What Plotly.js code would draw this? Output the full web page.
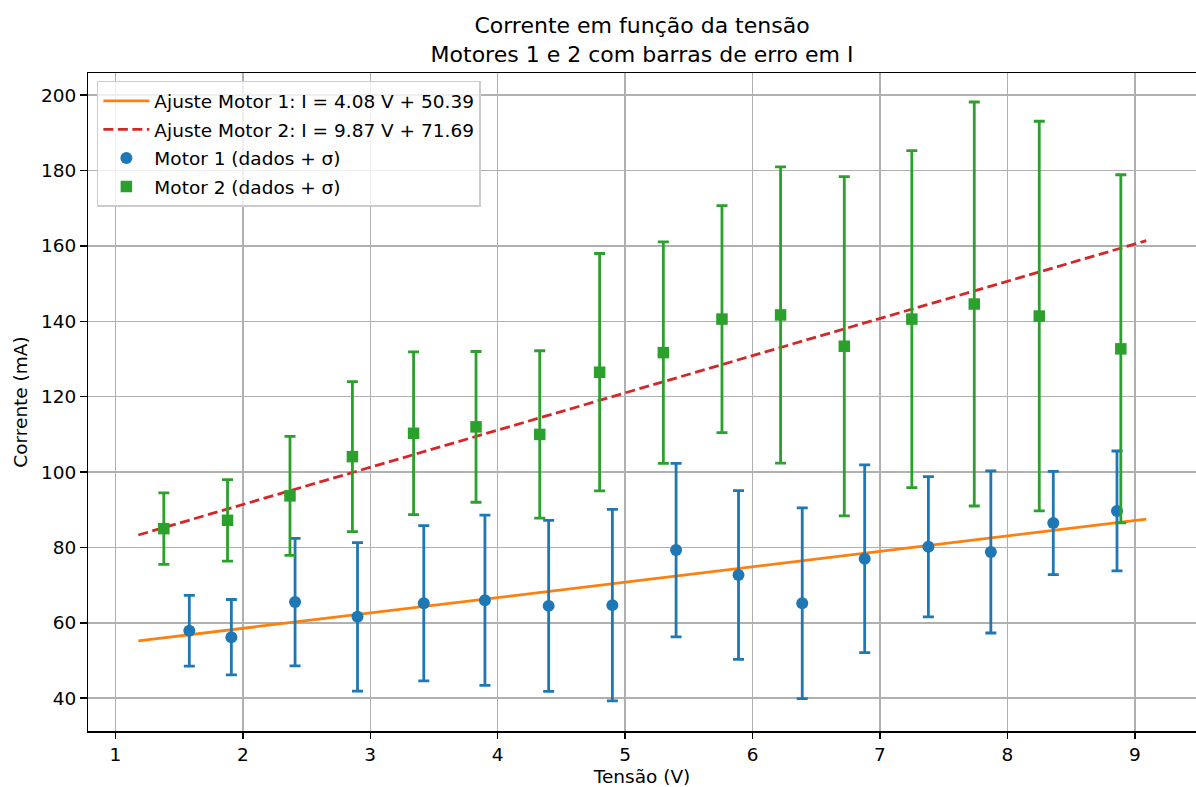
<!DOCTYPE html>
<html>
<head>
<meta charset="utf-8">
<script src="https://cdn.plot.ly/plotly-3.0.1.min.js"></script>
<style>html,body{margin:0;padding:0;background:#fff;}#chart{width:1196px;height:787px;}</style>
</head>
<body>
<div id="chart"></div>
<script>
// Motor 1 data
const m1V = [1.58, 1.91, 2.41, 2.90, 3.42, 3.90, 4.40, 4.90, 5.40, 5.89, 6.39, 6.88, 7.38, 7.87, 8.36, 8.86];
const m1I = [57.9, 56.2, 65.5, 61.6, 65.2, 66.0, 64.5, 64.7, 79.3, 72.7, 65.2, 77.0, 80.2, 78.8, 86.5, 89.7];
const m1Err = [9.4, 10.0, 16.9, 19.7, 20.6, 22.6, 22.7, 25.4, 23.0, 22.4, 25.3, 24.9, 18.6, 21.5, 13.7, 15.9];
// Motor 2 data
const m2V = [1.38, 1.88, 2.37, 2.86, 3.34, 3.83, 4.33, 4.80, 5.30, 5.76, 6.22, 6.72, 7.25, 7.74, 8.25, 8.89];
const m2I = [85.0, 87.2, 93.7, 104.1, 110.3, 112.0, 110.0, 126.5, 131.7, 140.6, 141.7, 133.4, 140.6, 144.6, 141.4, 132.7];
const m2Err = [9.5, 10.8, 15.8, 19.9, 21.6, 20.0, 22.2, 31.5, 29.4, 30.1, 39.3, 45.0, 44.7, 53.6, 51.7, 46.2];
// Fit lines (endpoints)
const fitV = [1.18, 9.09];
const fit1I = [55.2, 87.5];
const fit2I = [83.3, 161.4];
const fit1Label = "Ajuste Motor 1: I = 4.08 V + 50.39";
const fit2Label = "Ajuste Motor 2: I = 9.87 V + 71.69";
const m1Label = "Motor 1 (dados + σ)";
const m2Label = "Motor 2 (dados + σ)";
const yTicks = [40, 60, 80, 100, 120, 140, 160, 180, 200];
const xTicks = [1, 2, 3, 4, 5, 6, 7, 8, 9];

const FONT = "DejaVu Sans, sans-serif";
const FS = 18.5;

const traces = [
  {x: fitV, y: fit1I, mode: "lines", name: fit1Label, legendrank: 1, legendgroup: "a",
   line: {color: "#ff7f0e", width: 2.8}},
  {x: fitV, y: fit2I, mode: "lines", name: fit2Label, legendrank: 2, legendgroup: "b",
   line: {color: "#d62728", width: 2.8, dash: "10px,4.5px"}},
  {x: m1V, y: m1I, mode: "markers", name: m1Label, legendrank: 3, legendgroup: "c",
   marker: {color: "#1f77b4", size: 12, symbol: "circle"},
   error_y: {type: "data", array: m1Err, visible: true, color: "#1f77b4", thickness: 2.8, width: 5.5}},
  {x: m2V, y: m2I, mode: "markers", name: m2Label, legendrank: 4, legendgroup: "d",
   marker: {color: "#2ca02c", size: 11.5, symbol: "square"},
   error_y: {type: "data", array: m2Err, visible: true, color: "#2ca02c", thickness: 2.8, width: 5.5}}
];

const layout = {
  width: 1196, height: 787,
  paper_bgcolor: "#fff", plot_bgcolor: "#fff",
  margin: {l: 88, r: 0, t: 73, b: 56},
  font: {family: FONT, size: FS, color: "#000"},
  title: {text: "Corrente em função da tensão<br>Motores 1 e 2 com barras de erro em I",
          font: {family: FONT, size: 22, color: "#000"},
          x: 0.5, xanchor: "center", xref: "paper", y: 0.958, yref: "container", yanchor: "middle"},
  xaxis: {range: [0.785, 9.48], tickvals: xTicks, ticktext: xTicks.map(String),
          showgrid: true, gridcolor: "#b0b0b0", gridwidth: 1.5,
          showline: true, linecolor: "#000", linewidth: 1.5, mirror: true,
          ticks: "outside", ticklen: 6.5, tickwidth: 1.5, tickcolor: "#000",
          zeroline: false, tickfont: {family: FONT, size: FS, color: "#000"},
          title: {text: "Tensão (V)", font: {family: FONT, size: FS, color: "#000"}, standoff: 6}},
  yaxis: {range: [31.3, 205.9], tickvals: yTicks, ticktext: yTicks.map(String),
          showgrid: true, gridcolor: "#b0b0b0", gridwidth: 1.5,
          showline: true, linecolor: "#000", linewidth: 1.5, mirror: true,
          ticks: "outside", ticklen: 6.5, tickwidth: 1.5, tickcolor: "#000",
          zeroline: false, tickfont: {family: FONT, size: FS, color: "#000"},
          title: {text: "Corrente (mA)", font: {family: FONT, size: FS, color: "#000"}, standoff: 8}},
  legend: {x: 0.008, y: 0.988, xanchor: "left", yanchor: "top",
           bgcolor: "rgba(255,255,255,0.8)", bordercolor: "#cccccc", borderwidth: 1.5,
           font: {family: FONT, size: FS, color: "#000"},
           traceorder: "grouped", tracegroupgap: 1.5, itemwidth: 46},
  showlegend: true
};

Plotly.newPlot("chart", traces, layout, {displayModeBar: false, staticPlot: true});
</script>
</body>
</html>
